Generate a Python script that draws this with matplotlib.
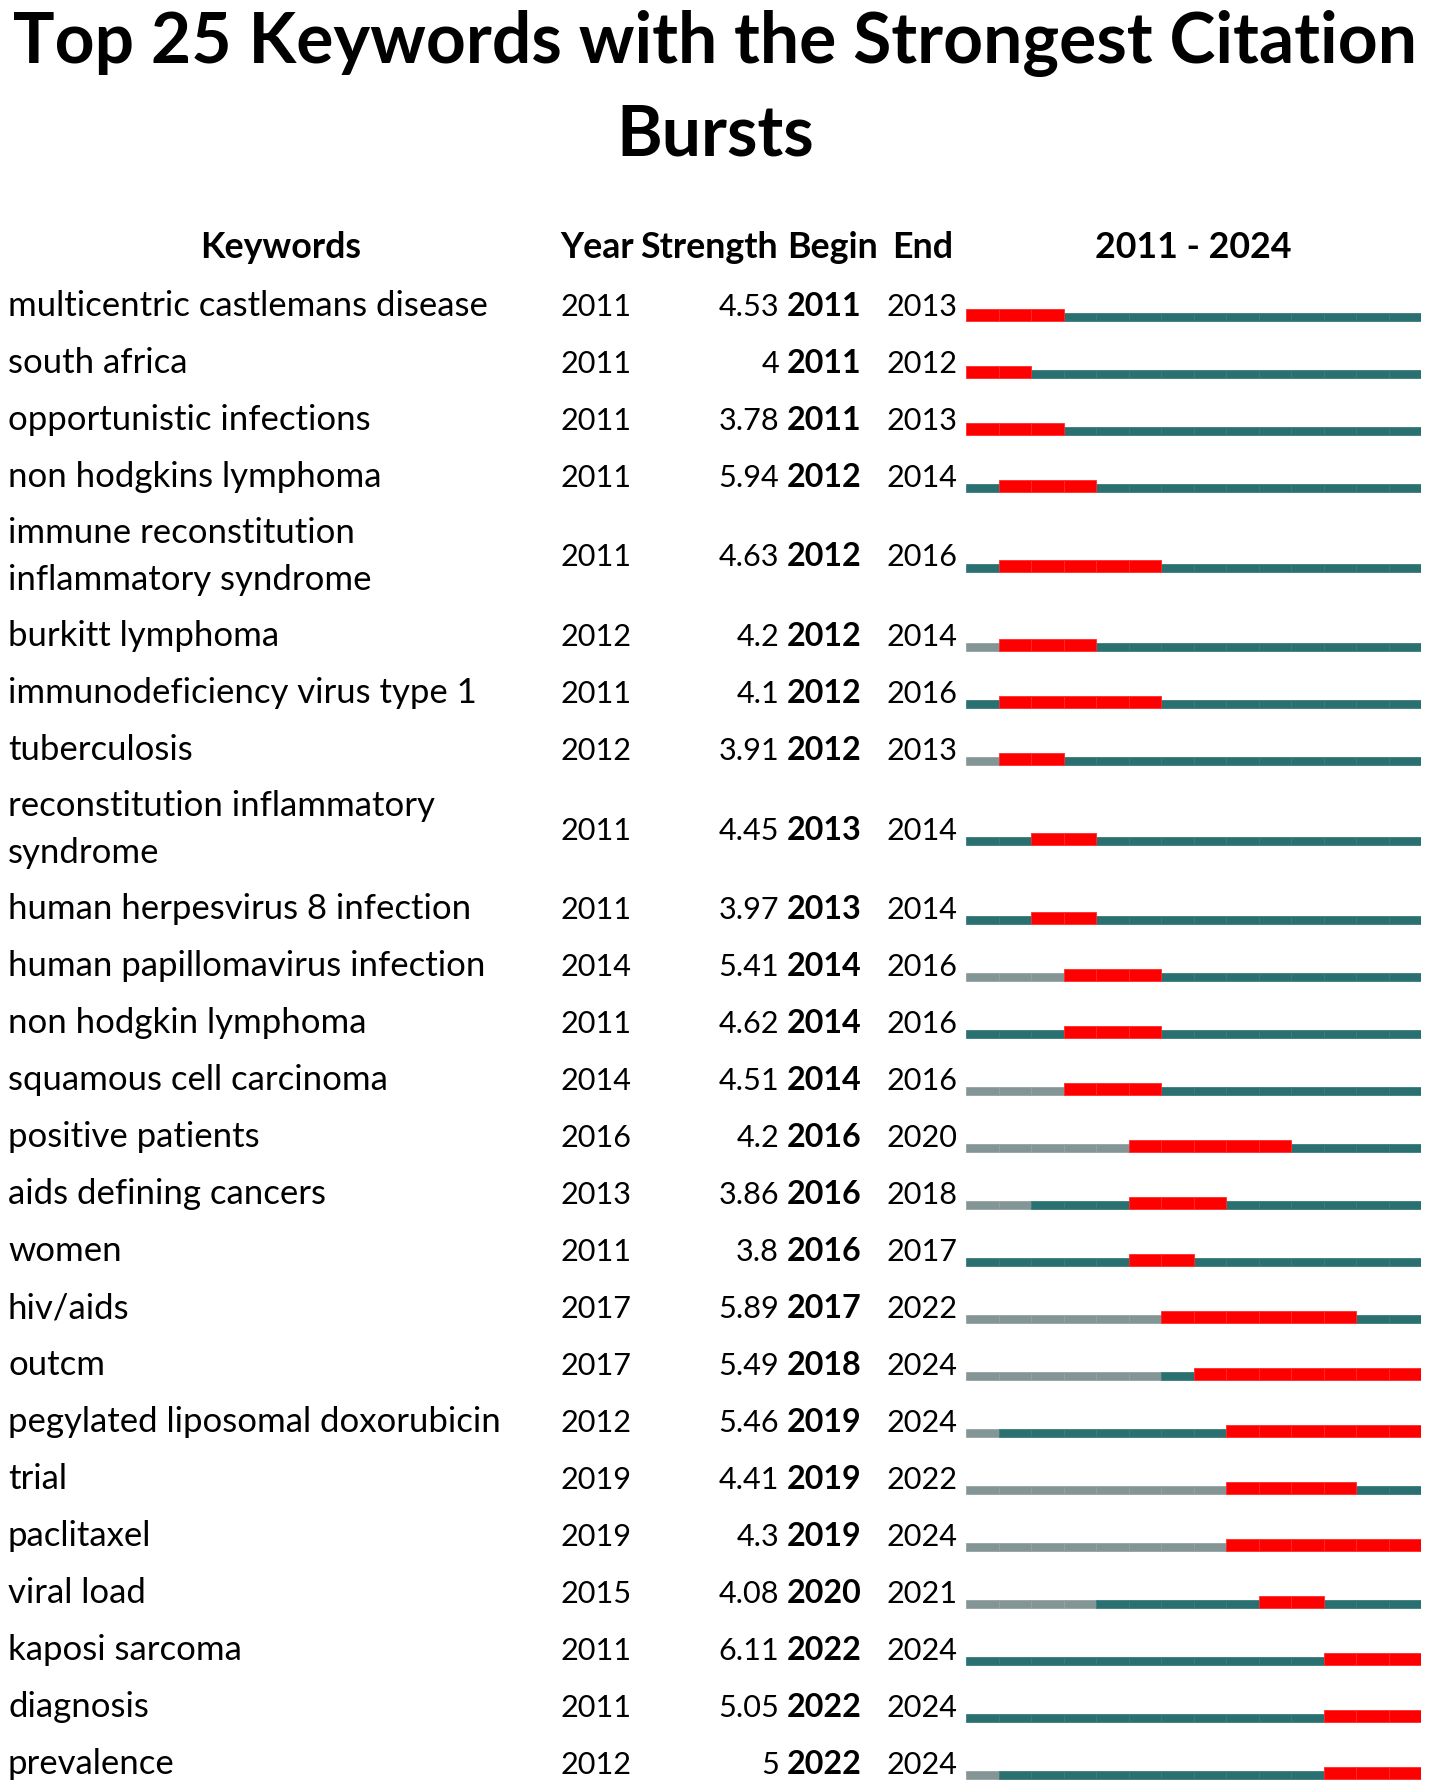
import numpy as np
import matplotlib
matplotlib.use('Agg')
import matplotlib.pyplot as plt

keywords = ['multicentric castlemans disease', 'south africa', 'opportunistic infections',
            'non hodgkins lymphoma', 'immune reconstitution\ninflammatory syndrome',
            'burkitt lymphoma', 'immunodeficiency virus type 1', 'tuberculosis',
            'reconstitution inflammatory\nsyndrome', 'human herpesvirus 8 infection',
            'human papillomavirus infection', 'non hodgkin lymphoma', 'squamous cell carcinoma',
            'positive patients', 'aids defining cancers', 'women', 'hiv/aids', 'outcm',
            'pegylated liposomal doxorubicin', 'trial', 'paclitaxel', 'viral load',
            'kaposi sarcoma', 'diagnosis', 'prevalence']
first_year = [2011, 2011, 2011, 2011, 2011, 2012, 2011, 2012, 2011, 2011, 2014, 2011, 2014,
              2016, 2013, 2011, 2017, 2017, 2012, 2019, 2019, 2015, 2011, 2011, 2012]
strength = ['4.53', '4', '3.78', '5.94', '4.63', '4.2', '4.1', '3.91', '4.45', '3.97', '5.41',
            '4.62', '4.51', '4.2', '3.86', '3.8', '5.89', '5.49', '5.46', '4.41', '4.3', '4.08',
            '6.11', '5.05', '5']
begin = [2011, 2011, 2011, 2012, 2012, 2012, 2012, 2012, 2013, 2013, 2014, 2014, 2014,
         2016, 2016, 2016, 2017, 2018, 2019, 2019, 2019, 2020, 2022, 2022, 2022]
end = [2013, 2012, 2013, 2014, 2016, 2014, 2016, 2013, 2014, 2014, 2016, 2016, 2016,
       2020, 2018, 2017, 2022, 2024, 2024, 2022, 2024, 2021, 2024, 2024, 2024]
start_year, stop_year = 2011, 2024

W, H = 1430, 1791
fig = plt.figure(figsize=(W / 100, H / 100), dpi=100)
ax = fig.add_axes([0, 0, 1, 1])
ax.set_xlim(0, W)
ax.set_ylim(H, 0)
ax.axis('off')

font = 'Lato'
renderer = fig.canvas.get_renderer()

def fit_size(s, target, weight='normal'):
    t = ax.text(0, 0, s, fontsize=20, family=font, weight=weight)
    w = t.get_window_extent(renderer).width
    t.remove()
    return 20 * target / w

# title
title_fs = fit_size('Top 25 Keywords with the Strongest Citation', 1405, 'bold')
ax.text(715, 63, 'Top 25 Keywords with the Strongest Citation', fontsize=title_fs,
        family=font, weight='bold', ha='center', va='baseline')
ax.text(715, 155, 'Bursts', fontsize=title_fs, family=font, weight='bold',
        ha='center', va='baseline')

fs = fit_size('multicentric castlemans disease', 481)
num_fs = fit_size('2024', 71)
bold_fs = fit_size('2011', 75, 'bold')
head_fs = fit_size('Strength', 138, 'bold')

# header
hy = 258
ax.text(281, hy, 'Keywords', fontsize=head_fs, family=font, weight='bold', ha='center', va='baseline')
ax.text(560, hy, 'Year', fontsize=head_fs, family=font, weight='bold', ha='left', va='baseline')
ax.text(778, hy, 'Strength', fontsize=head_fs, family=font, weight='bold', ha='right', va='baseline')
ax.text(787, hy, 'Begin', fontsize=head_fs, family=font, weight='bold', ha='left', va='baseline')
ax.text(892, hy, 'End', fontsize=head_fs, family=font, weight='bold', ha='left', va='baseline')
ax.text(1193, hy, '%d - %d' % (start_year, stop_year), fontsize=head_fs, family=font,
        weight='bold', ha='center', va='baseline')

# row baselines, two-line keywords take extra room
n_lines = [k.count('\n') + 1 for k in keywords]
base = [316.0]
for i in range(1, len(keywords)):
    base.append(base[-1] + 57 + 22.5 * (n_lines[i - 1] - 1) + 22.5 * (n_lines[i] - 1))

for i, k in enumerate(keywords):
    parts = k.split('\n')
    for j, p in enumerate(parts):
        ax.text(8, base[i] + (j - (len(parts) - 1) / 2) * 47, p, fontsize=fs, family=font,
                ha='left', va='baseline')
    ax.text(560, base[i], str(first_year[i]), fontsize=num_fs, family=font, ha='left', va='baseline')
    ax.text(779, base[i], strength[i], fontsize=num_fs, family=font, ha='right', va='baseline')
    ax.text(787, base[i], str(begin[i]), fontsize=bold_fs, family=font, weight='bold',
            ha='left', va='baseline')
    ax.text(887, base[i], str(end[i]), fontsize=num_fs, family=font, ha='left', va='baseline')

# burst bars
bx = fig.add_axes([966 / W, 0, (1421 - 966) / W, 1])
bx.set_xlim(start_year, stop_year + 1)
bx.set_ylim(H, 0)
bx.axis('off')

years = np.arange(start_year, stop_year + 1)
for i in range(len(keywords)):
    bottom = base[i] + 5
    gray = years < first_year[i]
    red = (years >= begin[i]) & (years <= end[i])
    teal = ~gray & ~red
    bx.barh(bottom - 8, 1, height=8, left=years[gray], align='edge',
            color='#849595', edgecolor='#93a2a2', linewidth=0.6)
    bx.barh(bottom - 8, 1, height=8, left=years[teal], align='edge',
            color='#2b7070', edgecolor='#3a7d7d', linewidth=0.6)
    bx.barh(bottom - 12, 1, height=12, left=years[red], align='edge',
            color='#ff0000', edgecolor='#ff2a2a', linewidth=0.6)

fig.savefig('out.png', dpi=100)
